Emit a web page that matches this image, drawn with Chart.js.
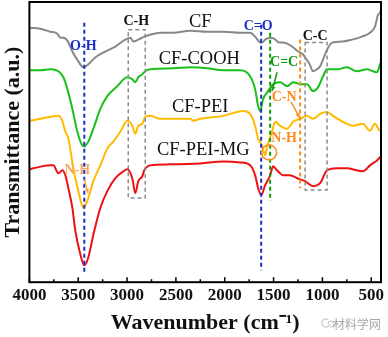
<!DOCTYPE html>
<html>
<head>
<meta charset="utf-8">
<script src="https://cdn.jsdelivr.net/npm/chart.js@4.4.0/dist/chart.umd.min.js"></script>
<style>
  html, body { margin: 0; padding: 0; background: #fff; }
</style>
</head>
<body>
<canvas id="ftir" width="388" height="337"></canvas>
<script>
// FTIR spectra, values (transmittance in arbitrary units, stacked)
const cfWave = [4000,3888,3785,3714,3683,3652,3611,3560,3499,3448,3397,3326,3223,3120,3018,2967,2936,2885,2824,2763,2660,2527,2353,2180,2016,1842,1740,1689,1648,1617,1586,1543,1494,1443,1413,1361,1310,1249,1198,1177,1130,1096,1058,1024,993,952,901,799,697,595,513,462,431,411,400];
const cfT    = [257,256,253,251,247,247,244,233,223,217,220,227,233,238,245,247,243,245,248,250,252,252,254,253,253,252,252,248,243,242,245,247,246,242,242,241,238,233,230,227,220,213,215,218,225,235,242,243,245,248,252,258,270,272,275];

const coohWave = [4000,3888,3785,3703,3652,3611,3560,3509,3458,3438,3397,3345,3274,3202,3100,2998,2947,2916,2885,2844,2814,2763,2527,2353,2180,2016,1842,1740,1689,1658,1638,1607,1556,1505,1433,1361,1300,1228,1157,1096,1044,993,952,850,748,646,543,441,411,400];
const coohT    = [214,214,215,213,207,195,175,152,138,137,142,155,175,188,198,207,205,202,207,210,213,215,216,217,216,214,214,208,195,178,173,185,193,200,202,198,202,200,200,193,197,208,215,215,217,213,215,212,220,222];

const peiWave = [4000,3888,3785,3703,3663,3632,3601,3550,3499,3448,3397,3345,3274,3202,3141,3069,2998,2947,2916,2885,2844,2814,2763,2660,2353,2323,2251,2016,1811,1740,1689,1658,1617,1586,1566,1515,1484,1433,1361,1300,1228,1157,1096,1024,952,891,789,687,585,513,462,411,400];
const peiT    = [163,165,167,168,163,152,145,115,92,75,85,102,118,135,142,152,163,158,150,158,160,167,168,165,165,163,165,168,173,170,158,145,138,128,137,152,162,158,155,162,165,168,165,170,172,168,162,158,160,153,160,153,155];

const mgWave = [4000,3959,3785,3755,3703,3663,3632,3601,3560,3530,3478,3438,3397,3345,3274,3202,3120,3039,2998,2947,2916,2885,2844,2824,2763,2589,2251,2016,1842,1740,1689,1658,1627,1586,1535,1505,1464,1402,1331,1259,1177,1096,1024,952,850,748,646,585,513,441,400];
const mgT    = [114,115,118,118,110,113,108,95,75,52,28,17,25,48,75,92,105,112,114,105,90,102,107,113,118,119,120,122,121,118,108,95,88,98,108,117,113,108,108,105,102,97,100,113,115,115,113,112,118,123,127];

const seriesNames = ['CF', 'CF-COOH', 'CF-PEI', 'CF-PEI-MG'];
const seriesColors = ['#888888', '#19c019', '#ffbb00', '#ee1111'];

const majorTicks = [4000, 3500, 3000, 2500, 2000, 1500, 1000, 500];
const minorTicks = [3750, 3250, 2750, 2250, 1750, 1250, 750];

// band markers (wavenumber, from / to in the same a.u.)
const bandLines = [
  { wn: 3438, from: 262, to: 8, color: '#1a2fc8' },   // O-H
  { wn: 1627, from: 260, to: 12, color: '#1a2fc8' },  // C=O
  { wn: 1535, from: 252, to: 82, color: '#109a10' },  // C=C
  { wn: 1228, from: 245, to: 95, color: '#ff8a1a' }   // C-N
];
const bandBoxes = [
  { wn1: 2988, wn2: 2814, top: 255, bottom: 85 },     // C-H
  { wn1: 1177, wn2: 952, top: 242, bottom: 93 }       // C-C
];
const bandTexts = [
  { text: 'O-H', wn: 3448, t: 238, color: '#1a2fc8' },
  { text: 'C-H', wn: 2906, t: 263, color: '#111' },
  { text: 'C=O', wn: 1658, t: 258, color: '#1a2fc8' },
  { text: 'C-C', wn: 1075, t: 248, color: '#111' },
  { text: 'C=C', wn: 1392, t: 222, color: '#109a10' },
  { text: 'C-N', wn: 1392, t: 187, color: '#ff8a1a' },
  { text: 'N-H', wn: 1392, t: 145, color: '#ff8a1a' },
  { text: 'N-H', wn: 3509, t: 113, color: '#f7a860' }
];
const nameSpots = [[2251, 263], [2261, 225], [2251, 177], [2220, 133]];

const serif = '"Liberation Serif", "Times New Roman", serif';

function toPoints(wave, vals) {
  return wave.map((w, i) => ({ x: w, y: vals[i] }));
}

function arrow(ctx, x1, y1, x2, y2, color) {
  const ang = Math.atan2(y2 - y1, x2 - x1);
  ctx.strokeStyle = color; ctx.fillStyle = color; ctx.lineWidth = 1.5;
  ctx.setLineDash([]);
  ctx.beginPath(); ctx.moveTo(x1, y1); ctx.lineTo(x2, y2); ctx.stroke();
  ctx.beginPath();
  ctx.moveTo(x2, y2);
  ctx.lineTo(x2 - 5 * Math.cos(ang - 0.45), y2 - 5 * Math.sin(ang - 0.45));
  ctx.lineTo(x2 - 5 * Math.cos(ang + 0.45), y2 - 5 * Math.sin(ang + 0.45));
  ctx.closePath(); ctx.fill();
}

const decor = {
  id: 'decor',
  afterDatasetsDraw(chart) {
    const { ctx, chartArea: a, scales: { x, y } } = chart;
    ctx.save();

    // gray dashed boxes
    ctx.strokeStyle = '#8c8c8c'; ctx.lineWidth = 1.5; ctx.setLineDash([4, 3]);
    bandBoxes.forEach(b => {
      const x1 = x.getPixelForValue(b.wn1), x2 = x.getPixelForValue(b.wn2);
      const y1 = y.getPixelForValue(b.top), y2 = y.getPixelForValue(b.bottom);
      ctx.strokeRect(x1, y1, x2 - x1, y2 - y1);
    });

    // texts
    ctx.textAlign = 'center'; ctx.textBaseline = 'middle';
    ctx.font = 'bold 14px ' + serif;
    bandTexts.forEach(t => {
      ctx.fillStyle = t.color;
      ctx.fillText(t.text, x.getPixelForValue(t.wn), y.getPixelForValue(t.t));
    });

    // vertical dashed lines
    ctx.lineWidth = 2; ctx.setLineDash([4, 3]);
    bandLines.forEach(l => {
      const px = x.getPixelForValue(l.wn);
      ctx.strokeStyle = l.color;
      ctx.beginPath();
      ctx.moveTo(px, y.getPixelForValue(l.from));
      ctx.lineTo(px, y.getPixelForValue(l.to));
      ctx.stroke();
    });

    // orange circle around N-H
    ctx.setLineDash([]); ctx.strokeStyle = '#ff8a1a'; ctx.lineWidth = 1.5;
    ctx.beginPath();
    ctx.arc(x.getPixelForValue(1546), y.getPixelForValue(131), 7.5, 0, Math.PI * 2);
    ctx.stroke();

    arrow(ctx, x.getPixelForValue(1464), y.getPixelForValue(212), x.getPixelForValue(1515), y.getPixelForValue(193), '#109a10');
    arrow(ctx, x.getPixelForValue(1320), y.getPixelForValue(182), x.getPixelForValue(1232), y.getPixelForValue(166), '#ff8a1a');
    arrow(ctx, x.getPixelForValue(3437), y.getPixelForValue(104), x.getPixelForValue(3400), y.getPixelForValue(90), '#f7a860');

    // series names
    ctx.font = '18.5px ' + serif; ctx.fillStyle = '#111';
    nameSpots.forEach((p, i) => {
      ctx.fillText(seriesNames[i], x.getPixelForValue(p[0]), y.getPixelForValue(p[1]));
    });

    // frame and inward ticks
    ctx.strokeStyle = '#000'; ctx.lineWidth = 2;
    ctx.strokeRect(a.left, a.top, a.width, a.height);
    ctx.lineWidth = 1.5;
    majorTicks.forEach(v => {
      const px = x.getPixelForValue(v);
      ctx.beginPath(); ctx.moveTo(px, a.bottom); ctx.lineTo(px, a.bottom - 5); ctx.stroke();
    });
    minorTicks.forEach(v => {
      const px = x.getPixelForValue(v);
      ctx.beginPath(); ctx.moveTo(px, a.bottom); ctx.lineTo(px, a.bottom - 3); ctx.stroke();
    });

    // watermark
    ctx.font = '12px "Noto Sans CJK SC", sans-serif';
    ctx.fillStyle = '#a8a8a8';
    ctx.fillText('材料学网', 357, 324);
    ctx.strokeStyle = '#b8b8b8'; ctx.lineWidth = 1;
    ctx.beginPath(); ctx.arc(326, 323, 4, 0.3, Math.PI * 1.7); ctx.stroke();
    ctx.beginPath(); ctx.arc(331, 324, 3, Math.PI, Math.PI * 2.6); ctx.stroke();

    ctx.restore();
  }
};

const datasets = [
  toPoints(cfWave, cfT), toPoints(coohWave, coohT),
  toPoints(peiWave, peiT), toPoints(mgWave, mgT)
].map((pts, i) => ({
  label: seriesNames[i],
  data: pts,
  borderColor: seriesColors[i],
  borderWidth: 2,
  pointRadius: 0,
  fill: false,
  cubicInterpolationMode: 'monotone'
}));

new Chart(document.getElementById('ftir'), {
  type: 'line',
  data: { datasets },
  options: {
    responsive: false,
    animation: false,
    layout: { padding: { top: 2, right: 7, bottom: 0, left: 0 } },
    plugins: { legend: { display: false }, tooltip: { enabled: false } },
    scales: {
      x: {
        type: 'linear',
        reverse: true,
        min: 400,
        max: 4000,
        afterBuildTicks: s => { s.ticks = majorTicks.map(v => ({ value: v })); },
        grid: { display: false, drawTicks: false },
        border: { display: false },
        ticks: {
          padding: 3,
          color: '#111',
          font: { family: serif, size: 17, weight: 'bold' },
          maxRotation: 0,
          callback: v => String(v)
        },
        title: {
          display: true,
          text: 'Wavenumber (cm\u207B\u00B9)',
          color: '#111',
          font: { family: serif, size: 22, weight: 'bold' },
          padding: { top: 2, bottom: 0 }
        }
      },
      y: {
        min: 0,
        max: 283,
        grid: { display: false, drawTicks: false },
        border: { display: false },
        ticks: { display: false },
        title: {
          display: true,
          text: 'Transmittance (a.u.)',
          color: '#111',
          font: { family: serif, size: 22, weight: 'bold' },
          padding: { top: 0, bottom: 3 }
        }
      }
    }
  },
  plugins: [decor]
});
</script>
</body>
</html>
